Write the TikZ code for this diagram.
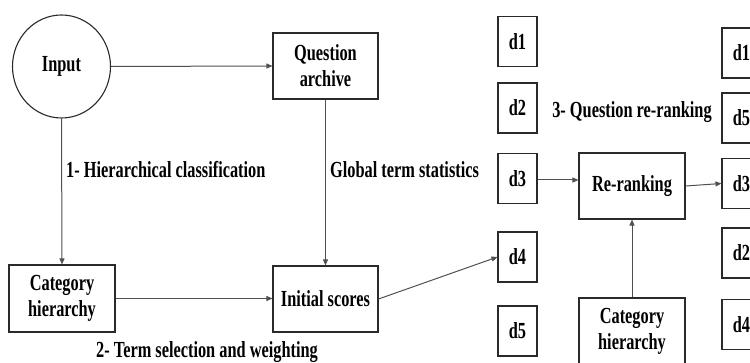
\documentclass[tikz,border=0pt]{standalone}
\usepackage{fontspec}
\newfontfamily\tnr{Liberation Serif}[FakeStretch=0.71]
\usetikzlibrary{arrows.meta,shapes.geometric,calc}
\definecolor{linegray}{HTML}{505050}
\definecolor{boxline}{HTML}{2A2A2A}
\begin{document}
\begin{tikzpicture}[x=1pt,y=-1pt,
  every node/.style={font=\tnr\bfseries\fontsize{23}{26}\selectfont, text=black, inner sep=0pt, align=center},
  box/.style={draw=boxline, line width=1.1pt, rectangle, minimum width=105pt, minimum height=66pt},
  dbox/.style={draw=boxline, line width=1.1pt, rectangle, minimum width=39pt, minimum height=50pt},
  conn/.style={draw=linegray, line width=1pt, -{Triangle[length=6pt,width=5pt]}}
]
\useasboundingbox (0,0) rectangle (750,363);
\clip (0,0) rectangle (750,363);

% left part: input, archive, classification, initial scores
\node[ellipse, draw=boxline, line width=1.1pt, minimum width=98pt, minimum height=103pt] (inp) at (61.5,66.5) {Input};
\node[box] (qa) at (325.5,66) {Question\\archive};
\node[box, minimum width=106pt, minimum height=67pt] (cat) at (62,298.5) {Category\\hierarchy};
\node[box] (init) at (325.5,299) {Initial scores};

% candidate questions before re-ranking
\node[dbox] (d1) at (517.5,41.5) {d1};
\node[dbox] (d2) at (517.5,108) {d2};
\node[dbox] (d3) at (517.5,178.5) {d3};
\node[dbox] (d4) at (517.5,257) {d4};
\node[dbox] (d5) at (517.5,331) {d5};

% re-ranking step
\node[box, minimum width=106pt] (rr) at (632,186) {Re-ranking};
\node[box, minimum width=106pt] (cat2) at (632,331) {Category\\hierarchy};

% questions after re-ranking
\node[dbox] (e1) at (741.5,53) {d1};
\node[dbox] (e5) at (741.5,118) {d5};
\node[dbox] (e3) at (741.5,183.5) {d3};
\node[dbox] (e2) at (741.5,253) {d2};
\node[dbox] (e4) at (741.5,324.5) {d4};

% step labels
\node[anchor=west] (l1) at (66,170) {1- Hierarchical classification};
\node[anchor=west] (l2) at (330,170) {Global term statistics};
\node (l3) at (207,352) {2- Term selection and weighting};
\node (l4) at (632,112) {3- Question re-ranking};

% connectors
\draw[conn] (inp.east) -- (qa.west);
\draw[conn] (inp.south) -- (cat.north);
\draw[conn] (qa.south) -- (init.north);
\draw[conn] (cat.east) -- (cat.east -| init.west);
\draw[conn] (init.east) -- (d4.west);
\draw[conn] (d3.east) ++(0,1.5) coordinate (d3o) -- (d3o -| rr.west);
\draw[conn] (rr.east) -- (e3.west);
\draw[conn] (cat2.north) -- (rr.south);
\end{tikzpicture}
\end{document}
